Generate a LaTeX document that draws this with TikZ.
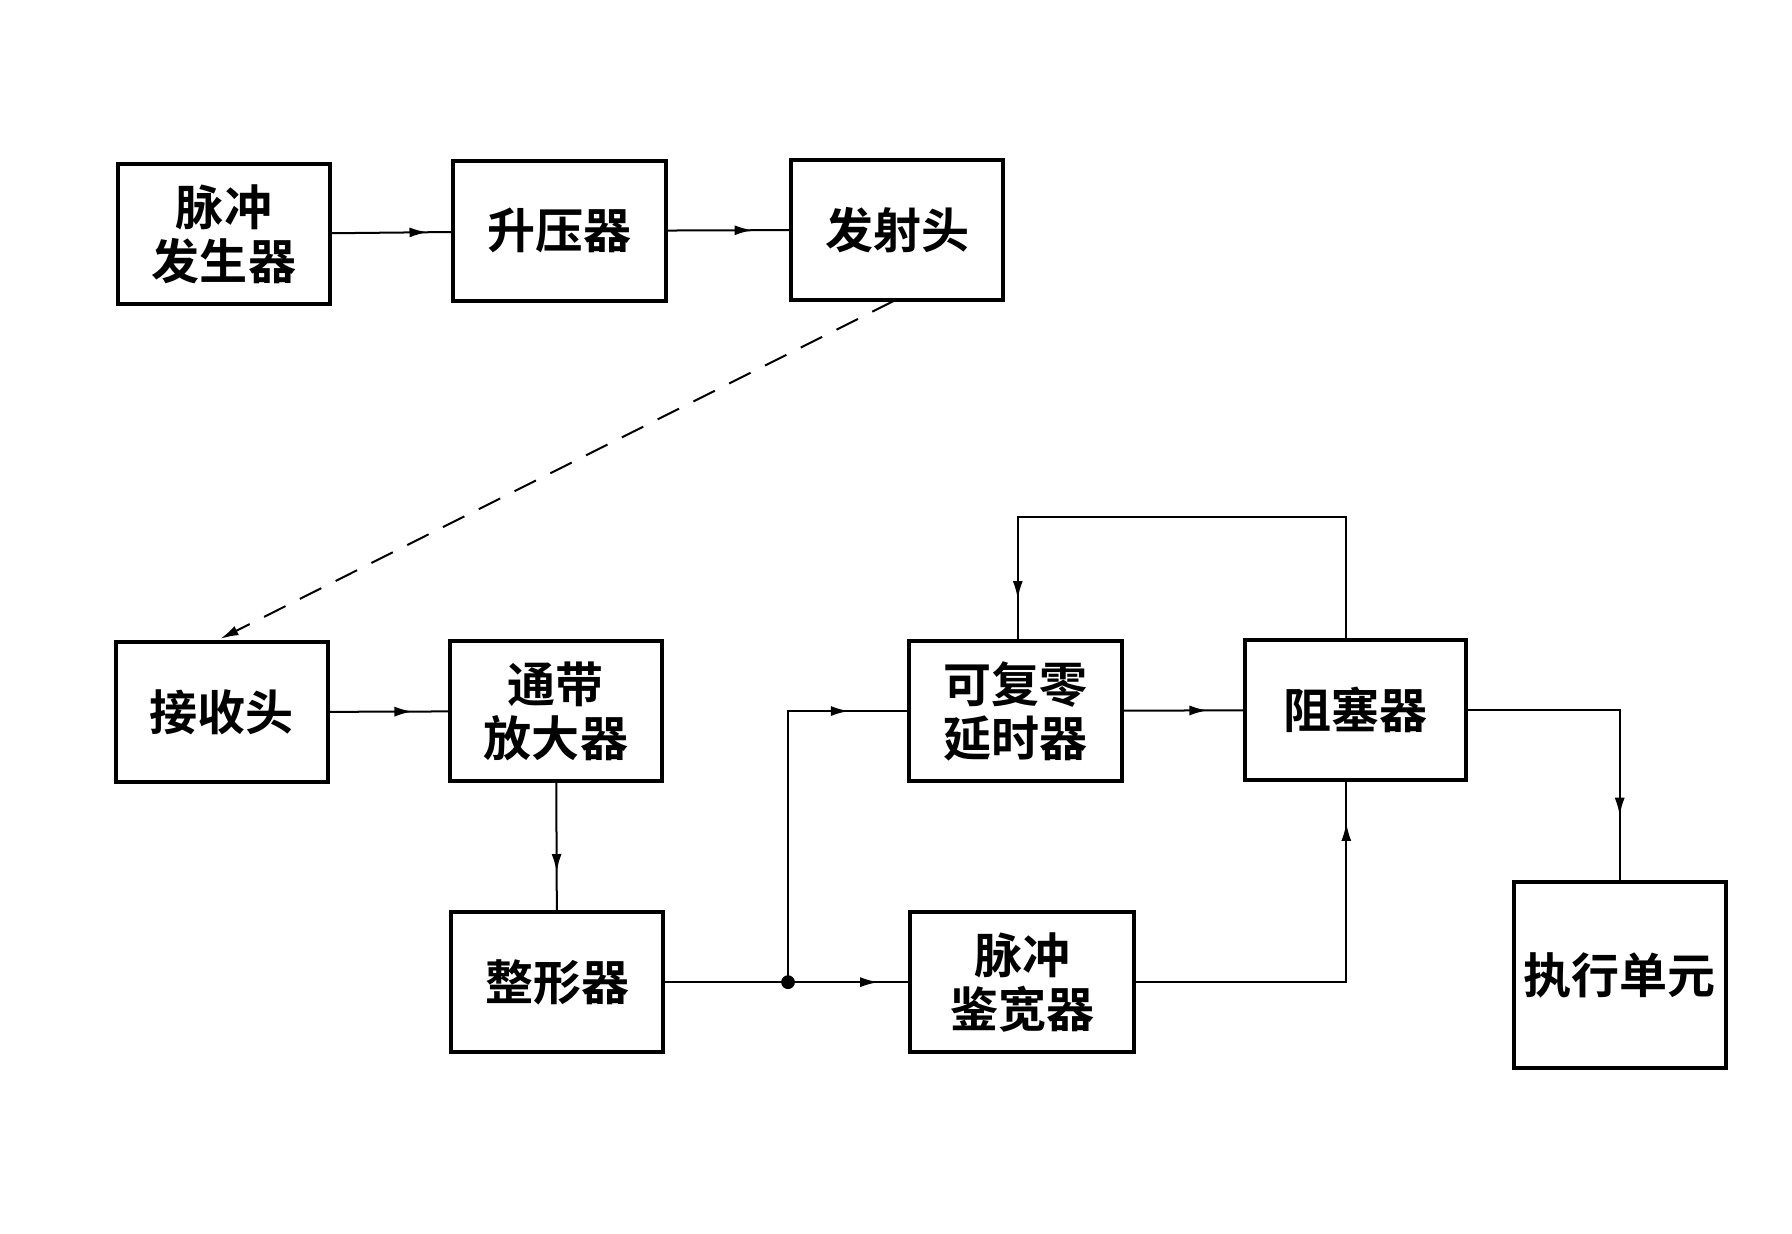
\documentclass[tikz,border=0pt]{standalone}
\usepackage{fontspec}
\setmainfont{Noto Sans CJK SC}[BoldFont={* Bold}]
\usetikzlibrary{decorations.markings,arrows.meta}

\tikzset{
  blk/.style={draw,line width=2pt,minimum width=106pt,minimum height=70pt,align=center,font=\fontsize{24}{27}\selectfont\bfseries},
  wire/.style={line width=1pt},
  midarr/.style={wire,postaction={decorate},decoration={markings,mark=at position #1 with {\arrow{Latex[length=9pt,width=5pt]}}}},
  midarr/.default=0.6
}

\begin{document}
\begin{tikzpicture}[x=0.574pt,y=-0.574pt]
\useasboundingbox (0,0) rectangle (1560,1074);

\node[blk] (gen) at (195,204) {脉冲\\发生器};
\node[blk] (boost) at (487,201) {升压器};
\node[blk] (tx) at (781,200) {发射头};
\node[blk] (rx) at (193,620) {接收头};
\node[blk] (amp) at (484,619) {通带\\放大器};
\node[blk] (shape) at (485,855) {整形器};
\node[blk] (delay) at (884,619) {可复零\\延时器};
\node[blk,minimum width=112pt] (width) at (890,855) {脉冲\\鉴宽器};
\node[blk,minimum width=110pt] (block) at (1180,618) {阻塞器};
\node[blk,minimum height=93pt] (exec) at (1410,849) {执行单元};

\coordinate (j) at (686,855);
\coordinate (txo) at (778,262);
\coordinate (rxi) at (192,556);

\draw[midarr=0.8] (gen) -- (boost);
\draw[midarr=0.7] (boost) -- (tx);
\draw[wire,dashed,dash pattern=on 12pt off 8pt,-{Latex[length=9pt,width=5pt]}] (txo) -- (rxi);
\draw[midarr=0.7] (rx) -- (amp);
\draw[midarr=0.7] (amp) -- (shape);
\draw[wire] (shape) -- (j);
\fill (j) circle (6);
\draw[midarr=0.85] (j) |- (delay.west);
\draw[midarr=0.75] (j) -- (width);
\draw[midarr=0.9] (width.east) -| (block.south -| 1172,0);
\draw[midarr=0.7] (delay) -- (block);
\draw[midarr=0.93] (block.north -| 1172,0) -- (1172,450) -- (886,450) -- (delay.north -| 886,0);
\draw[midarr=0.8] (block.east) -| (exec.north);

\end{tikzpicture}
\end{document}
